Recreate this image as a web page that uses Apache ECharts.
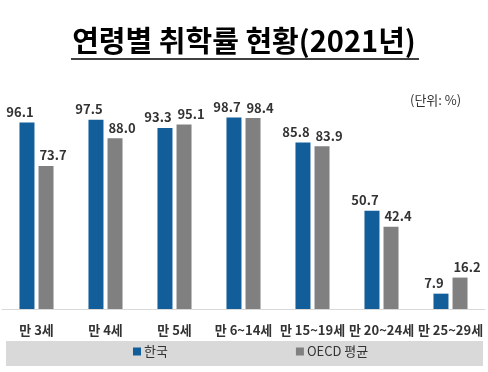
<!DOCTYPE html>
<html><head><meta charset="utf-8">
<script src="https://cdn.jsdelivr.net/npm/echarts@6/dist/echarts.min.js"></script>
<style>html,body{margin:0;padding:0;background:#fff}#c{width:488px;height:372px}</style>
</head><body><div id="c"></div>
<script>
const titleText = '연령별 취학률 현황(2021년)';
const unitText = '(단위: %)';
const categories = ['만 3세','만 4세','만 5세','만 6~14세','만 15~19세','만 20~24세','만 25~29세'];
const seriesNames = ['한국','OECD 평균'];
const korea = [96.1, 97.5, 93.3, 98.7, 85.8, 50.7, 7.9];
const oecd = [73.7, 88.0, 95.1, 98.4, 83.9, 42.4, 16.2];

const chart = echarts.init(document.getElementById('c'));
const font = '"Noto Sans CJK KR", "Noto Sans", sans-serif';
const mkLabel = dx => ({show:true, position:'top', distance:4, offset:[dx,0], color:'#333', fontWeight:'bold', fontSize:13, fontFamily:font,
  formatter: p => p.value.toFixed(1)});
chart.setOption({
  animation:false,
  title:{text:titleText, left:'center', top:21, textStyle:{fontFamily:font, fontSize:29, fontWeight:'bold', color:'#000'}},
  graphic:[
    {type:'line', shape:{x1:71,y1:59,x2:419,y2:59}, style:{stroke:'#000', lineWidth:1.5}},
    {type:'rect', shape:{x:6,y:341,width:477,height:25}, style:{fill:'#D9D9D9'}, z:-1},
    {type:'text', left:410, top:94, style:{text:unitText, font:'13px '+font, fill:'#333'}}
  ],
  legend:{bottom:9, left:128, itemWidth:8, itemHeight:8, itemGap:128, icon:'rect',
    textStyle:{fontFamily:font, fontSize:13, color:'#333', padding:[0,0,0,-2]}, data:seriesNames},
  grid:{left:2, right:3, top:115, bottom:63, containLabel:false},
  xAxis:{type:'category', data:categories, axisTick:{show:false},
    axisLine:{lineStyle:{color:'#D9D9D9'}},
    axisLabel:{color:'#333', fontFamily:font, fontSize:13, fontWeight:'bold', margin:15, interval:0}},
  yAxis:{type:'value', min:0, max:100, show:false, splitLine:{show:false}},
  series:[
    {name:seriesNames[0], type:'bar', data:korea, barWidth:15, barGap:'27%', itemStyle:{color:'#115E9B'}, label:mkLabel(-7)},
    {name:seriesNames[1], type:'bar', data:oecd, barWidth:15, itemStyle:{color:'#808080'}, label:mkLabel(7)}
  ]
});
</script></body></html>
